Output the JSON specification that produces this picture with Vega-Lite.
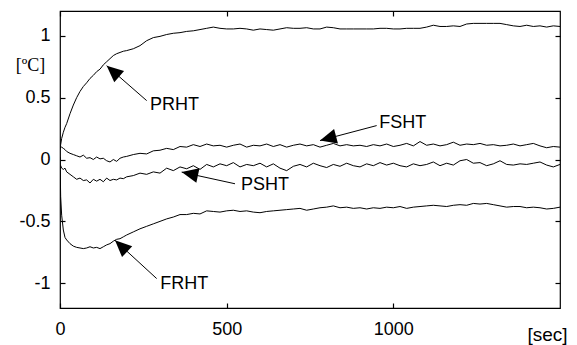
{
  "$schema": "https://vega.github.io/schema/vega-lite/v6.json",
  "autosize": "none",
  "width": 500,
  "height": 297,
  "padding": {"left": 60, "top": 11, "right": 17, "bottom": 37},
  "background": "white",
  "config": {
    "view": {"stroke": "black", "strokeWidth": 1.2},
    "axis": {
      "grid": false,
      "domain": false,
      "ticks": true,
      "zindex": 1,
      "tickColor": "black",
      "tickOpacity": 1,
      "tickWidth": 1.2,
      "tickSize": 5,
      "offset": -5,
      "labelColor": "black",
      "labelFont": "Liberation Sans",
      "labelFontSize": 18,
      "titleFont": "Liberation Sans",
      "titleFontSize": 19,
      "titleFontWeight": "normal",
      "titleColor": "black",
      "labelFlush": false,
      "labelOverlap": false
    }
  },
  "datasets": {
    "curves": [
      {"t": 0, "PRHT": 0.08, "FSHT": 0.09, "PSHT": -0.06, "FRHT": 0.02},
      {"t": 2, "PRHT": 0.12, "FSHT": 0.1, "PSHT": -0.05, "FRHT": -0.3},
      {"t": 5, "PRHT": 0.17, "FSHT": 0.1, "PSHT": -0.07, "FRHT": -0.45},
      {"t": 10, "PRHT": 0.22, "FSHT": 0.09, "PSHT": -0.08, "FRHT": -0.57},
      {"t": 15, "PRHT": 0.26, "FSHT": 0.08, "PSHT": -0.07, "FRHT": -0.63},
      {"t": 20, "PRHT": 0.29, "FSHT": 0.065, "PSHT": -0.1, "FRHT": -0.65},
      {"t": 30, "PRHT": 0.37, "FSHT": 0.05, "PSHT": -0.12, "FRHT": -0.68},
      {"t": 40, "PRHT": 0.44, "FSHT": 0.04, "PSHT": -0.14, "FRHT": -0.7},
      {"t": 50, "PRHT": 0.5, "FSHT": 0.03, "PSHT": -0.16, "FRHT": -0.71},
      {"t": 60, "PRHT": 0.55, "FSHT": 0.02, "PSHT": -0.15, "FRHT": -0.715},
      {"t": 70, "PRHT": 0.59, "FSHT": 0.035, "PSHT": -0.17, "FRHT": -0.72},
      {"t": 80, "PRHT": 0.62, "FSHT": 0.01, "PSHT": -0.165, "FRHT": -0.715},
      {"t": 90, "PRHT": 0.655, "FSHT": 0.015, "PSHT": -0.19, "FRHT": -0.705},
      {"t": 100, "PRHT": 0.68, "FSHT": 0.0, "PSHT": -0.16, "FRHT": -0.715},
      {"t": 110, "PRHT": 0.71, "FSHT": 0.02, "PSHT": -0.175, "FRHT": -0.71},
      {"t": 120, "PRHT": 0.73, "FSHT": 0.005, "PSHT": -0.16, "FRHT": -0.72},
      {"t": 130, "PRHT": 0.765, "FSHT": 0.01, "PSHT": -0.18, "FRHT": -0.705},
      {"t": 140, "PRHT": 0.79, "FSHT": -0.01, "PSHT": -0.15, "FRHT": -0.69},
      {"t": 150, "PRHT": 0.815, "FSHT": -0.02, "PSHT": -0.17, "FRHT": -0.68},
      {"t": 160, "PRHT": 0.84, "FSHT": 0.0, "PSHT": -0.16, "FRHT": -0.66},
      {"t": 170, "PRHT": 0.855, "FSHT": -0.015, "PSHT": -0.165, "FRHT": -0.645},
      {"t": 180, "PRHT": 0.865, "FSHT": 0.01, "PSHT": -0.15, "FRHT": -0.64},
      {"t": 190, "PRHT": 0.875, "FSHT": 0.02, "PSHT": -0.155, "FRHT": -0.625},
      {"t": 200, "PRHT": 0.88, "FSHT": 0.025, "PSHT": -0.14, "FRHT": -0.61},
      {"t": 220, "PRHT": 0.895, "FSHT": 0.04, "PSHT": -0.13, "FRHT": -0.585},
      {"t": 240, "PRHT": 0.92, "FSHT": 0.05, "PSHT": -0.11, "FRHT": -0.56},
      {"t": 260, "PRHT": 0.96, "FSHT": 0.045, "PSHT": -0.12, "FRHT": -0.54},
      {"t": 280, "PRHT": 0.985, "FSHT": 0.07, "PSHT": -0.1, "FRHT": -0.52},
      {"t": 300, "PRHT": 0.995, "FSHT": 0.075, "PSHT": -0.11, "FRHT": -0.5},
      {"t": 320, "PRHT": 1.01, "FSHT": 0.09, "PSHT": -0.07, "FRHT": -0.48},
      {"t": 340, "PRHT": 1.02, "FSHT": 0.08, "PSHT": -0.09, "FRHT": -0.465},
      {"t": 360, "PRHT": 1.025, "FSHT": 0.105, "PSHT": -0.06, "FRHT": -0.445},
      {"t": 380, "PRHT": 1.035, "FSHT": 0.1, "PSHT": -0.075, "FRHT": -0.445},
      {"t": 400, "PRHT": 1.04, "FSHT": 0.12, "PSHT": -0.05, "FRHT": -0.435},
      {"t": 420, "PRHT": 1.05, "FSHT": 0.105, "PSHT": -0.08, "FRHT": -0.44},
      {"t": 440, "PRHT": 1.06, "FSHT": 0.125, "PSHT": -0.04, "FRHT": -0.415},
      {"t": 460, "PRHT": 1.07, "FSHT": 0.11, "PSHT": -0.06, "FRHT": -0.42},
      {"t": 480, "PRHT": 1.06, "FSHT": 0.115, "PSHT": -0.035, "FRHT": -0.425},
      {"t": 500, "PRHT": 1.055, "FSHT": 0.1, "PSHT": -0.05, "FRHT": -0.415},
      {"t": 520, "PRHT": 1.055, "FSHT": 0.115, "PSHT": -0.025, "FRHT": -0.41},
      {"t": 540, "PRHT": 1.06, "FSHT": 0.125, "PSHT": -0.06, "FRHT": -0.42},
      {"t": 560, "PRHT": 1.055, "FSHT": 0.1, "PSHT": -0.04, "FRHT": -0.415},
      {"t": 580, "PRHT": 1.045, "FSHT": 0.115, "PSHT": -0.05, "FRHT": -0.425},
      {"t": 600, "PRHT": 1.055, "FSHT": 0.11, "PSHT": -0.03, "FRHT": -0.43},
      {"t": 620, "PRHT": 1.05, "FSHT": 0.125, "PSHT": -0.06, "FRHT": -0.42},
      {"t": 640, "PRHT": 1.045, "FSHT": 0.105, "PSHT": -0.035, "FRHT": -0.415},
      {"t": 660, "PRHT": 1.055, "FSHT": 0.12, "PSHT": -0.07, "FRHT": -0.41},
      {"t": 680, "PRHT": 1.065, "FSHT": 0.1, "PSHT": -0.09, "FRHT": -0.405},
      {"t": 700, "PRHT": 1.06, "FSHT": 0.115, "PSHT": -0.055, "FRHT": -0.4},
      {"t": 720, "PRHT": 1.06, "FSHT": 0.125, "PSHT": -0.04, "FRHT": -0.395},
      {"t": 740, "PRHT": 1.065, "FSHT": 0.11, "PSHT": -0.06, "FRHT": -0.41},
      {"t": 760, "PRHT": 1.055, "FSHT": 0.12, "PSHT": -0.03, "FRHT": -0.4},
      {"t": 780, "PRHT": 1.055, "FSHT": 0.1, "PSHT": -0.05, "FRHT": -0.39},
      {"t": 800, "PRHT": 1.07, "FSHT": 0.115, "PSHT": -0.065, "FRHT": -0.385},
      {"t": 820, "PRHT": 1.065, "FSHT": 0.13, "PSHT": -0.04, "FRHT": -0.375},
      {"t": 840, "PRHT": 1.055, "FSHT": 0.11, "PSHT": -0.055, "FRHT": -0.39},
      {"t": 860, "PRHT": 1.055, "FSHT": 0.12, "PSHT": -0.03, "FRHT": -0.385},
      {"t": 880, "PRHT": 1.055, "FSHT": 0.11, "PSHT": -0.05, "FRHT": -0.395},
      {"t": 900, "PRHT": 1.055, "FSHT": 0.115, "PSHT": -0.06, "FRHT": -0.39},
      {"t": 920, "PRHT": 1.055, "FSHT": 0.105, "PSHT": -0.035, "FRHT": -0.4},
      {"t": 940, "PRHT": 1.055, "FSHT": 0.12, "PSHT": -0.05, "FRHT": -0.39},
      {"t": 960, "PRHT": 1.06, "FSHT": 0.11, "PSHT": -0.025, "FRHT": -0.395},
      {"t": 980, "PRHT": 1.06, "FSHT": 0.125, "PSHT": -0.045, "FRHT": -0.385},
      {"t": 1000, "PRHT": 1.055, "FSHT": 0.105, "PSHT": -0.03, "FRHT": -0.39},
      {"t": 1020, "PRHT": 1.055, "FSHT": 0.115, "PSHT": -0.05, "FRHT": -0.38},
      {"t": 1040, "PRHT": 1.06, "FSHT": 0.13, "PSHT": -0.06, "FRHT": -0.395},
      {"t": 1060, "PRHT": 1.06, "FSHT": 0.11, "PSHT": -0.035, "FRHT": -0.385},
      {"t": 1080, "PRHT": 1.06, "FSHT": 0.145, "PSHT": -0.05, "FRHT": -0.38},
      {"t": 1100, "PRHT": 1.07, "FSHT": 0.115, "PSHT": -0.04, "FRHT": -0.375},
      {"t": 1120, "PRHT": 1.085, "FSHT": 0.125, "PSHT": -0.02, "FRHT": -0.37},
      {"t": 1140, "PRHT": 1.075, "FSHT": 0.11, "PSHT": -0.05, "FRHT": -0.375},
      {"t": 1160, "PRHT": 1.075, "FSHT": 0.12, "PSHT": -0.03, "FRHT": -0.38},
      {"t": 1180, "PRHT": 1.08, "FSHT": 0.14, "PSHT": -0.045, "FRHT": -0.37},
      {"t": 1200, "PRHT": 1.075, "FSHT": 0.115, "PSHT": -0.01, "FRHT": -0.365},
      {"t": 1220, "PRHT": 1.095, "FSHT": 0.125, "PSHT": 0.0, "FRHT": -0.37},
      {"t": 1240, "PRHT": 1.1, "FSHT": 0.12, "PSHT": -0.03, "FRHT": -0.355},
      {"t": 1260, "PRHT": 1.1, "FSHT": 0.13, "PSHT": -0.025, "FRHT": -0.36},
      {"t": 1280, "PRHT": 1.1, "FSHT": 0.115, "PSHT": -0.05, "FRHT": -0.355},
      {"t": 1300, "PRHT": 1.1, "FSHT": 0.12, "PSHT": -0.035, "FRHT": -0.365},
      {"t": 1320, "PRHT": 1.1, "FSHT": 0.11, "PSHT": -0.01, "FRHT": -0.375},
      {"t": 1340, "PRHT": 1.09, "FSHT": 0.115, "PSHT": -0.04, "FRHT": -0.385},
      {"t": 1360, "PRHT": 1.08, "FSHT": 0.125, "PSHT": -0.045, "FRHT": -0.38},
      {"t": 1380, "PRHT": 1.075, "FSHT": 0.11, "PSHT": -0.035, "FRHT": -0.38},
      {"t": 1400, "PRHT": 1.085, "FSHT": 0.12, "PSHT": -0.04, "FRHT": -0.39},
      {"t": 1420, "PRHT": 1.075, "FSHT": 0.13, "PSHT": -0.03, "FRHT": -0.385},
      {"t": 1440, "PRHT": 1.08, "FSHT": 0.11, "PSHT": -0.02, "FRHT": -0.39},
      {"t": 1460, "PRHT": 1.07, "FSHT": 0.095, "PSHT": -0.045, "FRHT": -0.4},
      {"t": 1480, "PRHT": 1.08, "FSHT": 0.105, "PSHT": -0.06, "FRHT": -0.395},
      {"t": 1500, "PRHT": 1.075, "FSHT": 0.1, "PSHT": -0.04, "FRHT": -0.385}
    ],
    "notes": [
      {"label": "PRHT", "tx": 270, "ty": 0.438, "x1": 260, "y1": 0.476, "x2": 140, "y2": 0.758},
      {"label": "FSHT", "tx": 958, "ty": 0.294, "x1": 950, "y1": 0.274, "x2": 780, "y2": 0.153},
      {"label": "PSHT", "tx": 543, "ty": -0.21, "x1": 525, "y1": -0.196, "x2": 365, "y2": -0.102},
      {"label": "FRHT", "tx": 301, "ty": -1.004, "x1": 290, "y1": -0.962, "x2": 165, "y2": -0.653}
    ]
  },
  "resolve": {"axis": {"x": "independent", "y": "independent"}},
  "layer": [
    {
      "data": {"name": "curves"},
      "transform": [{"fold": ["PRHT", "FSHT", "PSHT", "FRHT"], "as": ["series", "v"]}],
      "mark": {"type": "line", "color": "black", "strokeWidth": 1, "clip": true},
      "encoding": {
        "x": {
          "field": "t", "type": "quantitative",
          "scale": {"domain": [0, 1500], "nice": false, "zero": false},
          "axis": {
            "values": [0, 500, 1000],
            "labelExpr": "toString(datum.value)",
            "title": "[sec]",
            "titleX": 487, "titleY": 37,
            "titleAlign": "center", "titleBaseline": "alphabetic",
            "labelPadding": 12
          }
        },
        "y": {
          "field": "v", "type": "quantitative",
          "scale": {"domain": [-1.2, 1.2], "nice": false, "zero": false},
          "axis": {
            "values": [-1, -0.5, 0, 0.5, 1],
            "labelExpr": "toString(datum.value)",
            "labelPadding": 10,
            "title": "[ºC]",
            "titleFont": "Liberation Serif",
            "titleFontSize": 18,
            "titleAngle": 0,
            "titleX": -35, "titleY": 54,
            "titleAlign": "center", "titleBaseline": "middle"
          }
        },
        "detail": {"field": "series"}
      }
    },
    {
      "data": {"name": "notes"},
      "mark": {"type": "rule", "color": "black", "strokeWidth": 1},
      "encoding": {
        "x": {
          "field": "x1", "type": "quantitative",
          "scale": {"domain": [0, 1500], "nice": false, "zero": false},
          "axis": {"orient": "top", "values": [0, 500, 1000], "labels": false, "title": null}
        },
        "y": {
          "field": "y1", "type": "quantitative",
          "scale": {"domain": [-1.2, 1.2], "nice": false, "zero": false},
          "axis": {"orient": "right", "values": [-1, -0.5, 0, 0.5, 1], "labels": false, "title": null}
        },
        "x2": {"field": "x2"},
        "y2": {"field": "y2"}
      }
    },
    {
      "data": {"name": "notes"},
      "mark": {"type": "text", "align": "left", "baseline": "middle", "font": "Liberation Sans", "fontSize": 18, "color": "black"},
      "encoding": {
        "x": {"field": "tx", "type": "quantitative", "axis": null},
        "y": {"field": "ty", "type": "quantitative", "axis": null},
        "text": {"field": "label"}
      }
    },
    {
      "data": {"name": "notes"},
      "transform": [{"filter": "datum.label == 'PRHT'"}],
      "mark": {"type": "point", "shape": "M0,0L-0.45,1L0.45,1Z", "filled": true, "color": "black", "opacity": 1, "size": 1100, "angle": 311},
      "encoding": {
        "x": {"field": "x2", "type": "quantitative", "axis": null},
        "y": {"field": "y2", "type": "quantitative", "axis": null}
      }
    },
    {
      "data": {"name": "notes"},
      "transform": [{"filter": "datum.label == 'FSHT'"}],
      "mark": {"type": "point", "shape": "M0,0L-0.45,1L0.45,1Z", "filled": true, "color": "black", "opacity": 1, "size": 1100, "angle": 255},
      "encoding": {
        "x": {"field": "x2", "type": "quantitative", "axis": null},
        "y": {"field": "y2", "type": "quantitative", "axis": null}
      }
    },
    {
      "data": {"name": "notes"},
      "transform": [{"filter": "datum.label == 'PSHT'"}],
      "mark": {"type": "point", "shape": "M0,0L-0.45,1L0.45,1Z", "filled": true, "color": "black", "opacity": 1, "size": 1100, "angle": 282},
      "encoding": {
        "x": {"field": "x2", "type": "quantitative", "axis": null},
        "y": {"field": "y2", "type": "quantitative", "axis": null}
      }
    },
    {
      "data": {"name": "notes"},
      "transform": [{"filter": "datum.label == 'FRHT'"}],
      "mark": {"type": "point", "shape": "M0,0L-0.45,1L0.45,1Z", "filled": true, "color": "black", "opacity": 1, "size": 1100, "angle": 313},
      "encoding": {
        "x": {"field": "x2", "type": "quantitative", "axis": null},
        "y": {"field": "y2", "type": "quantitative", "axis": null}
      }
    }
  ]
}
